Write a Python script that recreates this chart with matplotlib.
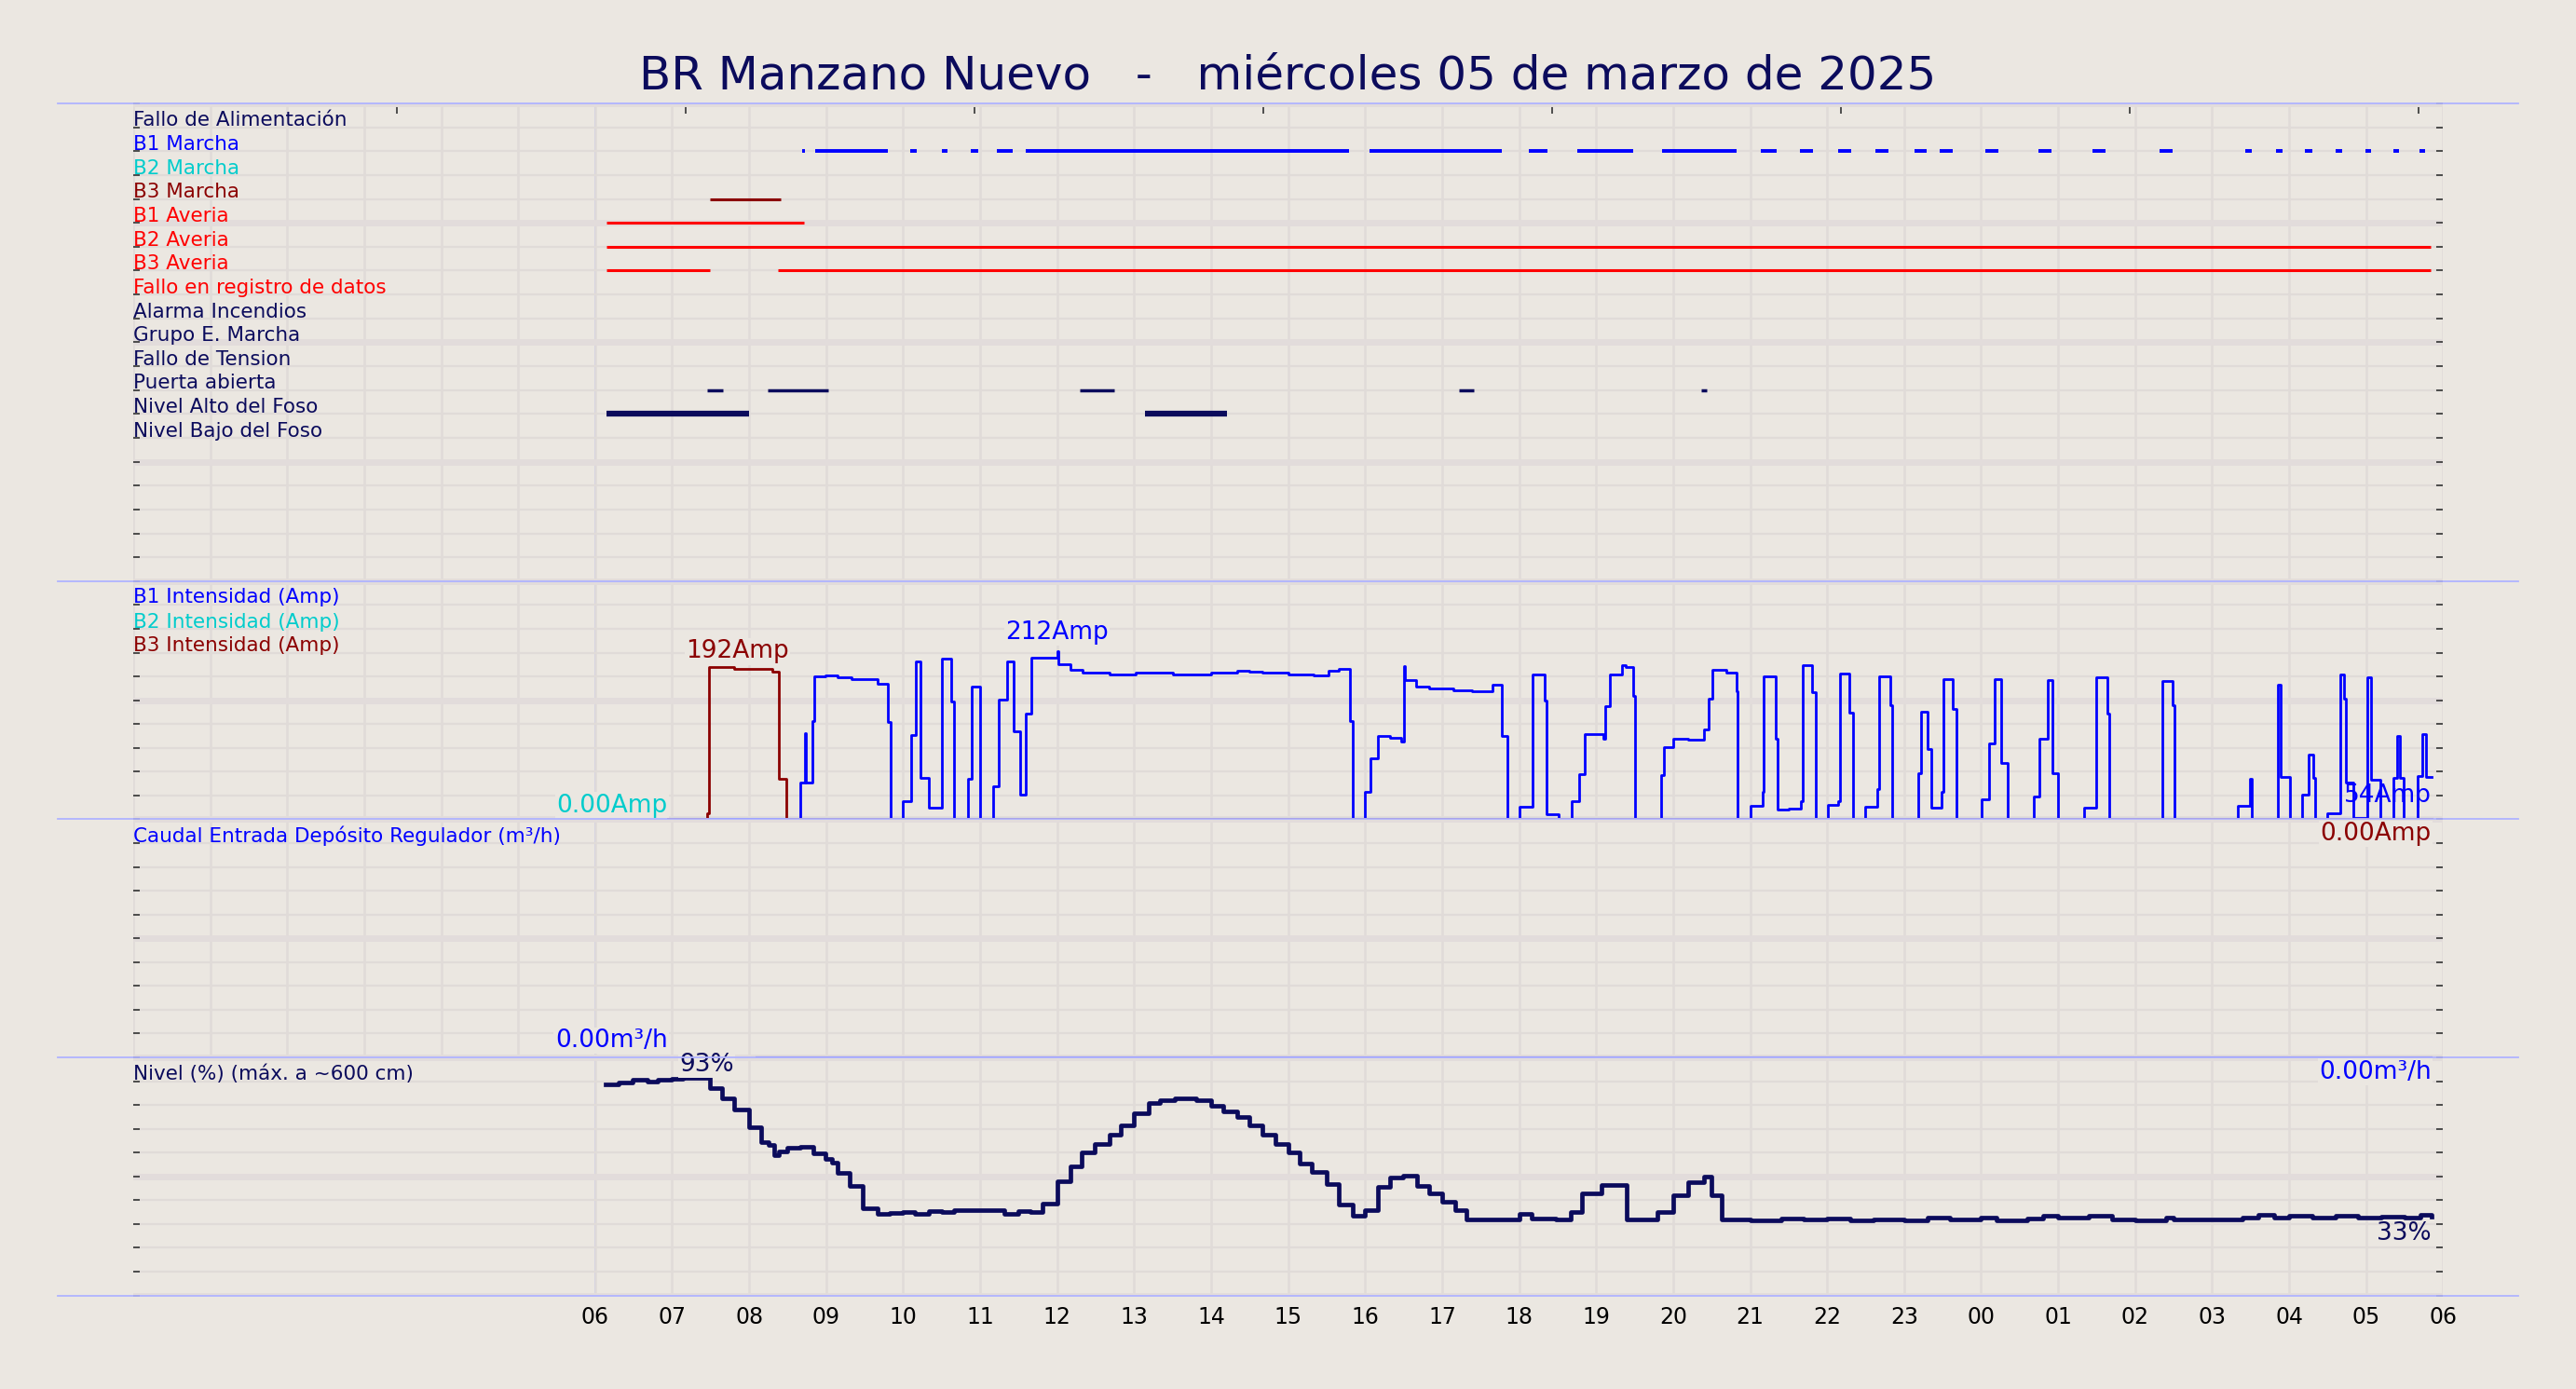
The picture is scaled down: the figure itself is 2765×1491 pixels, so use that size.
import matplotlib
matplotlib.use("Agg")
import matplotlib.pyplot as plt
from matplotlib.lines import Line2D
from matplotlib.ticker import MultipleLocator

BG = "#ebe7e1"
NAVY = "#0b0b5c"
BLUE = "#0000ff"
CYAN = "#00cccc"
DRED = "#8b0000"
RED = "#ff0000"
SEP = "#b0b4ff"

title = "BR Manzano Nuevo   -   miércoles 05 de marzo de 2025"

# ---- digital signals (row labels, colours, segments in hours; 6 = 06:00 day 1)
row_labels = ["Fallo de Alimentación", "B1 Marcha", "B2 Marcha", "B3 Marcha", "B1 Averia",
              "B2 Averia", "B3 Averia", "Fallo en registro de datos", "Alarma Incendios",
              "Grupo E. Marcha", "Fallo de Tension", "Puerta abierta", "Nivel Alto del Foso",
              "Nivel Bajo del Foso"]
row_colors = [NAVY, BLUE, CYAN, DRED, RED, RED, RED, RED, NAVY, NAVY, NAVY, NAVY, NAVY, NAVY]
b1_marcha = [(8.69, 8.73), (8.86, 9.80), (10.09, 10.18), (10.50, 10.58), (10.88, 10.97),
             (11.22, 11.42), (11.59, 15.79), (16.06, 17.77), (18.13, 18.37), (18.75, 19.48),
             (19.86, 20.82), (21.14, 21.35), (21.65, 21.82), (22.14, 22.31), (22.63, 22.80),
             (23.14, 23.29), (23.46, 23.63), (24.06, 24.23), (24.74, 24.91), (25.45, 25.62),
             (26.32, 26.49), (27.43, 27.51), (27.83, 27.92), (28.20, 28.30), (28.60, 28.69),
             (28.99, 29.07), (29.35, 29.43), (29.69, 29.77)]
b3_marcha = [(7.49, 8.41)]
b1_averia = [(6.15, 8.71)]
b2_averia = [(6.15, 29.84)]
b3_averia = [(6.15, 7.49), (8.37, 29.84)]
puerta = [(7.45, 7.66), (8.24, 9.03), (12.29, 12.74), (17.22, 17.41), (20.37, 20.44)]
nivel_alto = [(6.15, 8.0), (13.14, 14.21)]

# ---- intensities (hours, amps), step 'post'
b1_t = [6.94, 8.67, 8.72, 8.74, 8.82, 8.85, 8.99, 9.15, 9.33, 9.67, 9.80, 9.84, 9.99,
        10.10, 10.17, 10.22, 10.33, 10.50, 10.63, 10.66, 10.84, 10.89, 11.00, 11.17, 11.24,
        11.35, 11.44, 11.52, 11.59, 11.66, 12.00, 12.02, 12.17, 12.33, 12.68, 13.02, 13.51,
        14.00, 14.34, 14.50, 14.67, 15.01, 15.33, 15.52, 15.66, 15.80, 15.84, 16.00, 16.07,
        16.17, 16.32, 16.47, 16.50, 16.52, 16.66, 16.83, 17.14, 17.39, 17.65, 17.77,
        17.85, 18.01, 18.17, 18.33, 18.35, 18.51, 18.68, 18.78, 18.85, 19.09, 19.12, 19.18,
        19.34, 19.39, 19.48, 19.51, 19.84, 19.88, 20.00, 20.19, 20.40, 20.46, 20.51, 20.69,
        20.82, 20.84, 21.00, 21.16, 21.18, 21.33, 21.36, 21.50, 21.66, 21.68, 21.81, 21.85,
        22.01, 22.14, 22.17, 22.29, 22.34, 22.50, 22.65, 22.67, 22.82, 22.84, 23.18, 23.22,
        23.31, 23.35, 23.49, 23.51, 23.63, 23.68, 24.01, 24.10, 24.17, 24.26, 24.34, 24.68,
        24.76, 24.87, 24.93, 25.00, 25.34, 25.50, 25.64, 25.66, 26.35, 26.49, 26.51, 27.34,
        27.49, 27.52, 27.86, 27.89, 28.01, 28.17, 28.25, 28.32, 28.34, 28.50, 28.67, 28.71,
        28.74, 28.84, 29.01, 29.06, 29.18, 29.35, 29.40, 29.44, 29.49, 29.67, 29.73, 29.78,
        29.85]
b1_a = [0, 46, 109, 46, 124, 180, 181, 179, 176, 171, 122, 0, 23,
        106, 199, 52, 14, 202, 148, 0, 51, 167, 0, 41, 151,
        199, 111, 31, 133, 204, 212, 195, 188, 185, 183, 185, 183,
        185, 187, 186, 185, 183, 181, 187, 190, 124, 0, 34, 77,
        105, 103, 98, 193, 175, 167, 165, 163, 161, 170, 105,
        0, 16, 182, 150, 6, 0, 23, 57, 107, 101, 143, 182,
        194, 192, 156, 0, 56, 91, 102, 100, 113, 152, 188, 185,
        161, 0, 17, 34, 180, 101, 12, 13, 23, 194, 160, 0,
        18, 23, 184, 134, 0, 16, 38, 180, 144, 0, 58, 135,
        89, 14, 34, 177, 139, 0, 25, 95, 176, 71, 0, 29,
        102, 175, 58, 0, 14, 179, 133, 0, 174, 144, 0, 17,
        51, 0, 170, 53, 0, 31, 81, 52, 0, 7, 182, 152,
        46, 2, 179, 50, 0, 52, 105, 52, 0, 55, 107, 53,
        53]
b2_t = [6.94, 29.85]
b2_a = [0, 0]
b3_t = [6.94, 7.46, 7.48, 7.80, 8.10, 8.30, 8.39, 8.48, 29.85]
b3_a = [0, 8, 192, 190, 189, 186, 51, 0, 0]

# ---- caudal
caudal_t = [8.09, 29.84]
caudal_v = [0, 0]

# ---- nivel (%)
nivel_t = [6.14, 6.31, 6.49, 6.68, 6.81, 7.0, 7.14, 7.49, 7.65, 7.81, 8.0, 8.16, 8.25, 8.32, 8.39,
           8.5, 8.67, 8.83, 8.99, 9.07, 9.15, 9.31, 9.48, 9.67, 9.83, 10.0, 10.15, 10.33, 10.50,
           10.66, 10.84, 11.17, 11.31, 11.49, 11.65, 11.81, 12.0, 12.17, 12.32, 12.49, 12.68,
           12.83, 13.0, 13.19, 13.34, 13.53, 13.81, 14.0, 14.16, 14.34, 14.5, 14.67, 14.84, 15.0,
           15.15, 15.31, 15.5, 15.66, 15.84, 16.0, 16.16, 16.32, 16.49, 16.68, 16.83, 17.0, 17.17,
           17.32, 17.50, 17.85, 18.0, 18.16, 18.48, 18.67, 18.81, 19.07, 19.4, 19.8, 20.0, 20.2,
           20.4, 20.5, 20.63, 21.0, 21.4, 21.7, 22.0, 22.3, 22.6, 23.0, 23.3, 23.6, 24.0, 24.2,
           24.6, 24.8, 25.0, 25.4, 25.7, 26.0, 26.4, 26.5, 27.0, 27.4, 27.6, 27.8, 28.0, 28.3,
           28.6, 28.9, 29.2, 29.5, 29.7, 29.85]
nivel_v = [88.5, 89.4, 90.4, 90.0, 90.4, 91.1, 91.5, 87.2, 82.9, 78.0, 70.6, 64.4, 63.3, 58.9,
           60.4, 62.0, 62.4, 59.8, 57.2, 55.6, 51.3, 45.8, 36.6, 34.4, 34.8, 35.0, 34.4, 35.4,
           35.0, 35.7, 35.9, 35.7, 34.4, 35.4, 35.0, 38.5, 48.1, 54.2, 60.2, 63.7, 67.6, 71.5,
           76.5, 80.7, 82.1, 82.6, 82.0, 79.7, 77.4, 74.8, 71.5, 67.6, 63.7, 60.2, 55.5, 52.0,
           46.8, 38.3, 33.3, 35.7, 45.5, 49.4, 50.3, 46.1, 42.8, 39.3, 35.9, 31.8, 32.0, 31.8,
           34.1, 32.4, 32.0, 35.0, 42.8, 46.2, 31.7, 35.0, 42.0, 47.6, 49.7, 42.0, 31.7, 31.5,
           32.4, 31.7, 32.4, 31.5, 32.0, 31.5, 32.8, 31.9, 32.8, 31.5, 32.1, 33.4, 32.5, 33.4,
           31.8, 31.5, 32.8, 31.8, 32.0, 32.7, 33.8, 32.5, 33.6, 32.8, 33.4, 32.6, 33.2, 32.5,
           33.8, 33.0]

hours = list(range(6, 31))
hour_labels = [f"{h % 24:02d}" for h in hours]
top_ticks = [3.43, 7.18, 10.93, 14.68, 18.43, 22.18, 25.93, 29.68]

plt.rcParams["font.family"] = ["DejaVu Sans"]
fig = plt.figure(figsize=(27.65, 14.91), dpi=100, facecolor=BG)

LBL = 15.5
ANN = 19
L, W = 0.0517, 0.8967
boxes = [(0.5816, 0.3440), (0.4102, 0.1714), (0.2388, 0.1714), (0.0674, 0.1714)]
axes = []
for b, h in boxes:
    ax = fig.add_axes([L, b, W, h], facecolor=BG)
    ax.set_xlim(0, 30)
    for s in ax.spines.values():
        s.set_visible(False)
    ax.xaxis.set_major_locator(MultipleLocator(1))
    ax.grid(True, which="major", axis="x", color="#e0dbd8", lw=1.8, zorder=0)
    ax.tick_params(axis="x", length=0, labelbottom=False)
    ax.tick_params(axis="y", which="both", left=True, right=True, direction="in",
                   length=5, width=1.2, color="#333333", labelleft=False)
    ax.grid(True, which="minor", axis="y", color="#e0dbd8", lw=1.6, zorder=0)
    ax.grid(True, which="major", axis="y", color="#e2dcdb", lw=5, zorder=0)
    ax.axvline(6, color=SEP, lw=1.2, zorder=1)
    axes.append(ax)
ax1, ax2, ax3, ax4 = axes
bb = dict(facecolor=BG, edgecolor="none", pad=1)

# Panel 1: digital signals
ax1.set_ylim(20, 0)
ax1.yaxis.set_minor_locator(MultipleLocator(1))
ax1.yaxis.set_major_locator(MultipleLocator(5))
for k, (lab, col) in enumerate(zip(row_labels, row_colors)):
    ax1.text(0.0, k + 0.72, lab, color=col, fontsize=LBL, va="center", ha="left", zorder=5)
signals = [(1, b1_marcha, BLUE, 2.8), (3, b3_marcha, DRED, 2.2), (4, b1_averia, RED, 2.2),
           (5, b2_averia, RED, 2.2), (6, b3_averia, RED, 2.2), (11, puerta, NAVY, 2.5),
           (12, nivel_alto, NAVY, 4.5)]
for row, segs, col, lw in signals:
    ax1.hlines([row + 1.0] * len(segs), [s[0] for s in segs], [s[1] for s in segs],
               colors=col, lw=lw, zorder=4)
sec = ax1.secondary_xaxis("top")
sec.set_xticks(top_ticks)
sec.tick_params(direction="in", length=8, width=1.2, color="#333333", labeltop=False)
for s in sec.spines.values():
    s.set_visible(False)

# Panel 2: intensities
ax2.set_ylim(0, 300)
ax2.yaxis.set_minor_locator(MultipleLocator(30))
ax2.yaxis.set_major_locator(MultipleLocator(150))
ax2.step(b2_t, b2_a, where="post", color=CYAN, lw=2.2, zorder=3)
ax2.step(b1_t, b1_a, where="post", color=BLUE, lw=2.0, zorder=4)
ax2.step(b3_t, b3_a, where="post", color=DRED, lw=2.0, zorder=5)
for lab, col, yf in [("B1 Intensidad (Amp)", BLUE, 0.931), ("B2 Intensidad (Amp)", CYAN, 0.828),
                     ("B3 Intensidad (Amp)", DRED, 0.731)]:
    ax2.text(0.0, yf, lab, color=col, fontsize=LBL, va="center", transform=ax2.transAxes)
ax2.text(12.0, 212 + 8, "212Amp", color=BLUE, fontsize=ANN, ha="center", va="bottom", bbox=bb)
ax2.text(7.85, 192 + 4, "192Amp", color=DRED, fontsize=ANN, ha="center", va="bottom", bbox=bb)
ax2.text(6.94, 2, "0.00Amp", color=CYAN, fontsize=ANN, ha="right", va="bottom", bbox=bb)
ax2.text(29.85, 45, "54Amp", color=BLUE, fontsize=ANN, ha="right", va="top")

# Panel 3: caudal
ax3.set_ylim(0, 10)
ax3.yaxis.set_minor_locator(MultipleLocator(1))
ax3.yaxis.set_major_locator(MultipleLocator(5))
ax3.plot(caudal_t, caudal_v, color=BLUE, lw=2.2, zorder=4, clip_on=False)
ax3.text(0.0, 0.93, "Caudal Entrada Depósito Regulador (m³/h)", color=BLUE, fontsize=LBL,
         va="center", transform=ax3.transAxes, zorder=10)
ax3.text(29.85, 9.9, "0.00Amp", color=DRED, fontsize=ANN, ha="right", va="top", bbox=bb, zorder=10)
ax3.text(6.94, 0.2, "0.00m³/h", color=BLUE, fontsize=ANN, ha="right", va="bottom", bbox=bb)

# Panel 4: nivel
ax4.set_ylim(0, 100)
ax4.yaxis.set_minor_locator(MultipleLocator(10))
ax4.yaxis.set_major_locator(MultipleLocator(50))
ax4.step(nivel_t, nivel_v, where="post", color=NAVY, lw=3.4, zorder=4)
ax4.text(0.0, 0.93, "Nivel (%) (máx. a ~600 cm)", color=NAVY, fontsize=LBL, va="center",
         transform=ax4.transAxes)
ax4.text(29.85, 99, "0.00m³/h", color=BLUE, fontsize=ANN, ha="right", va="top", bbox=bb, zorder=10)
ax4.text(7.45, 97, "93%", color=NAVY, fontsize=ANN, ha="center", va="center", bbox=bb, zorder=6)
ax4.text(29.85, 31, "33%", color=NAVY, fontsize=ANN, ha="right", va="top")
ax4.set_xticks(hours)
ax4.set_xticklabels(hour_labels, fontsize=17)
ax4.tick_params(axis="x", labelbottom=True, pad=8)

# separators
for y in [0.9255, 0.5816, 0.4102, 0.2388, 0.0674]:
    fig.add_artist(Line2D([0.0223, 0.9777], [y, y], color=SEP, lw=1.3))

fig.text(0.5, 0.9456, title, color=NAVY, fontsize=36, ha="center", va="center")

fig.savefig("out.png", dpi=100, facecolor=BG)
